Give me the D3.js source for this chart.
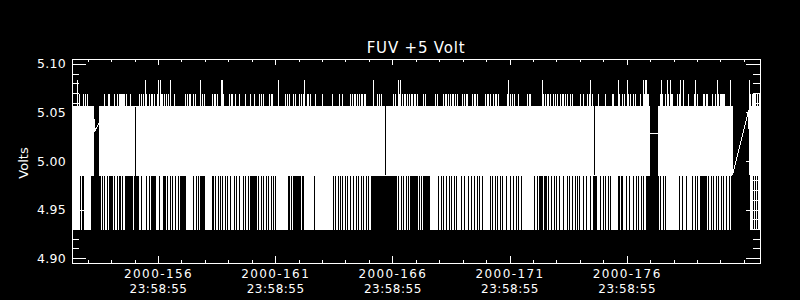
<!DOCTYPE html>
<html>
<head>
<meta charset="utf-8">
<script src="https://cdn.jsdelivr.net/npm/d3@7"></script>
<style>
  html, body { margin: 0; padding: 0; background: #000; }
  svg { display: block; }
  text { font-family: "DejaVu Sans", sans-serif; fill: #fff; }
</style>
</head>
<body>
<div id="chart"></div>
<script>
// FUV +5 V monitor, 2000 day 153 07:53 -> day 182 16:30
var startTime = new Date(Date.UTC(2000, 5, 1, 7, 53));
var endTime = new Date(Date.UTC(2000, 5, 30, 16, 30));

// quantized readback levels (volts)
var bandTop = 5.057, bandBottom = 4.986;
var spikeLevels = {"1": 5.070, "2": 5.084};
var dipLevels = {"1": 4.930, "2": 4.958};

// one character per reading bin; " " = no telemetry
// highRow: 0 = stays in band, 1 = reaches 5.070, 2 = reaches 5.084
var highRow = [
  "0000020100010101000000     0000010001100",
  "00100101111110100010000 0001010102100101",
  "1010012021101010102000100000000001010110",
  "0101000020101000000010110100022100000101",
  "1001000100000100001000100001010100000101",
  "1000002000000101010001010001010120011010",
  "0001000000100000000010000001001000000010",
  "101101010110110000000200010101000 000000",
  "0101002120101101010110110100000101000000",
  "0001010000010110101011010100001010110000",
  "1011010000000101101001011010000000012010",
  "1010001000000001011000000000002101011010",
  "0101010010110101001010000000100100010120",
  "10 0001000000100000011000021001010021010",
  "010100001002122110        00121001021021",
  "1000010120020000100000120100000110110000",
  "100102101111100000200                210",
  "11110101"
].join("");

// lowRow: 0 = stays in band, 1 = drops to 4.930, 2 = drops to 4.958
var lowRow = [
  "1111111101001111111000     0010101101000",
  "01011010010110000000010 0001101111011010",
  "0000111011100010110101101101000000111111",
  "1011010100000111111100101101010110101101",
  "1101011011101011010000000101101011010110",
  "1010111111111111001010000000010011111111",
  "1101111111111111111110101101010110101101",
  "101101011010110101100000000000000 000000",
  "0000010110101101010000000010101000000011",
  "1111110110101101101011010111101101110110",
  "1101101011011111110101101011010111011101",
  "1011010110111111111111011010000100010110",
  "1101011011101110101101101010111011011101",
  "10 0011101101011010111111100100111011011",
  "101101011010110000        01011010111111",
  "1111111011011101111101101011000000010110",
  "101101011010110110100                011",
  "10101011"
].join("");

// readings on each side of the telemetry gaps
var gaps = [
  {t0: new Date(Date.UTC(2000, 5, 2, 6, 25)), v0: 5.031, t1: new Date(Date.UTC(2000, 5, 2, 11, 14)), v1: 5.040},
  {t0: new Date(Date.UTC(2000, 5, 25, 23, 20)), v0: 5.0285, t1: new Date(Date.UTC(2000, 5, 26, 7, 32)), v1: 5.0285},
  {t0: new Date(Date.UTC(2000, 5, 29, 13, 9)), v0: 4.991, t1: new Date(Date.UTC(2000, 5, 30, 4, 31)), v1: 5.053}
];

var tickDays = [156, 161, 166, 171, 176];
var tickLabels = ["2000-156", "2000-161", "2000-166", "2000-171", "2000-176"];
var tickTime = "23:58:55";
var minorTickDays = d3.range(153, 182);
var yMajor = [4.90, 4.95, 5.00, 5.05, 5.10];
var yMinor = d3.range(4.90, 5.1001, 0.01);

function dayToDate(doy) {
  return new Date(Date.UTC(2000, 0, 1, 23, 58, 55) + (doy - 1) * 86400000);
}

var width = 800, height = 300;
var margin = {top: 59, right: 40, bottom: 37, left: 72};

var svg = d3.select("#chart").append("svg")
    .attr("width", width)
    .attr("height", height);

svg.append("rect").attr("width", width).attr("height", height).attr("fill", "#000");

var x = d3.scaleUtc()
    .domain([startTime, endTime])
    .range([margin.left, width - margin.right]);
var y = d3.scaleLinear()
    .domain([4.895, 5.105])
    .range([height - margin.bottom, margin.top]);

// build the sample list, each bin sweeps across the band and out to its extremes
var N = lowRow.length;
var dt = (endTime - startTime) / N;
var samples = [];
var atTop = true;
for (var i = 0; i < N; i++) {
    var lo = lowRow[i], hi = highRow[i] || "0";
    if (lo === " ") continue;
    var t = new Date(+startTime + i * dt);
    var upper = [bandTop], lower = [bandBottom];
    if (hi in spikeLevels) upper = [bandTop, spikeLevels[hi], bandTop];
    if (lo in dipLevels) lower = [bandBottom, dipLevels[lo], bandBottom];
    var seq = atTop ? upper.concat(lower) : lower.concat(upper);
    seq.forEach(function(v) { samples.push({t: t, v: v}); });
    atTop = !atTop;
}
gaps.forEach(function(g) {
    samples.push({t: g.t0, v: g.v0});
    samples.push({t: g.t1, v: g.v1});
});
samples.sort(function(a, b) { return a.t - b.t; });

var line = d3.line()
    .x(function(d) { return x(d.t); })
    .y(function(d) { return y(d.v); });

svg.append("path")
    .datum(samples)
    .attr("transform", "translate(0.5,0.5)")
    .attr("fill", "none")
    .attr("stroke", "#fff")
    .attr("stroke-width", 1)
    .attr("shape-rendering", "crispEdges")
    .attr("d", line);

// frame
svg.append("rect")
    .attr("x", margin.left + 0.5)
    .attr("y", margin.top + 0.5)
    .attr("width", width - margin.right - margin.left)
    .attr("height", height - margin.bottom - margin.top)
    .attr("fill", "none")
    .attr("stroke", "#fff")
    .attr("shape-rendering", "crispEdges");

function addAxis(axis, tx, ty) {
    var g = svg.append("g")
        .attr("transform", "translate(" + tx + "," + ty + ")")
        .call(axis);
    g.select(".domain").remove();
    g.attr("color", "#fff")
        .attr("font-family", "DejaVu Sans")
        .attr("shape-rendering", "crispEdges");
    return g;
}

var majorDates = tickDays.map(dayToDate);
var minorDates = minorTickDays.map(dayToDate);
var yBottom = height - margin.bottom, xRight = width - margin.right;

// bottom axis
addAxis(d3.axisBottom(x).tickValues(minorDates).tickSize(-3).tickFormat(""), 0, yBottom);
var gx = addAxis(d3.axisBottom(x).tickValues(majorDates).tickSize(-7).tickFormat(""), 0, yBottom);
gx.selectAll(".tick text").remove();
gx.selectAll(".tick").append("text")
    .attr("text-anchor", "middle")
    .attr("font-size", 12)
    .each(function(d, i) {
        var txt = d3.select(this);
        txt.append("tspan").attr("x", 0).attr("y", 15).attr("letter-spacing", 1.4).text(tickLabels[i]);
        txt.append("tspan").attr("x", 0).attr("y", 30).attr("letter-spacing", 0.5).text(tickTime);
    });

// top axis
addAxis(d3.axisTop(x).tickValues(minorDates).tickSize(-3).tickFormat(""), 0, margin.top);
addAxis(d3.axisTop(x).tickValues(majorDates).tickSize(-6).tickFormat(""), 0, margin.top);

// left axis
addAxis(d3.axisLeft(y).tickValues(yMinor).tickSize(-7).tickFormat(""), margin.left, 0);
var gy = addAxis(d3.axisLeft(y).tickValues(yMajor).tickSize(-14).tickPadding(6).tickFormat(d3.format(".2f")), margin.left, 0);
gy.selectAll(".tick text").attr("font-size", 12.5).attr("letter-spacing", 0.3);

// right axis
addAxis(d3.axisRight(y).tickValues(yMinor).tickSize(-7).tickFormat(""), xRight, 0);
addAxis(d3.axisRight(y).tickValues(yMajor).tickSize(-14).tickFormat(""), xRight, 0);

// title and y label
svg.append("text")
    .attr("x", (margin.left + xRight) / 2)
    .attr("y", 52.5)
    .attr("text-anchor", "middle")
    .attr("font-size", 15)
    .attr("letter-spacing", 0.8)
    .text("FUV +5 Volt");

svg.append("text")
    .attr("transform", "translate(28,163) rotate(-90)")
    .attr("text-anchor", "middle")
    .attr("font-size", 13)
    .text("Volts");
</script>
</body>
</html>
